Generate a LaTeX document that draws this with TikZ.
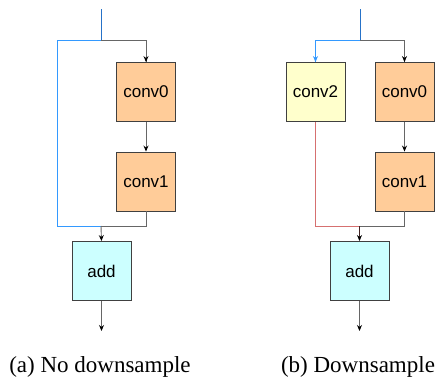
\documentclass[tikz,border=0pt]{standalone}
\usepackage{fontspec}
\setmainfont{Liberation Serif}
\newfontfamily\boxfont{Liberation Sans}
\usetikzlibrary{arrows.meta}
\definecolor{convor}{HTML}{FFCC99}
\definecolor{convye}{HTML}{FFFFCC}
\definecolor{addcy}{HTML}{CCFFFF}
\definecolor{edgegray}{HTML}{666666}
\definecolor{bordgray}{HTML}{404040}
\definecolor{skipblue}{HTML}{3399FF}
\definecolor{inblue}{HTML}{2672C8}
\definecolor{skipred}{HTML}{D67070}
\tikzset{
  blk/.style={draw=bordgray, line width=0.9pt, minimum width=59pt, minimum height=59pt, inner sep=0pt, font=\boxfont\fontsize{17}{20}\selectfont},
  orbox/.style={blk, fill=convor},
  yebox/.style={blk, fill=convye},
  cybox/.style={blk, fill=addcy},
  link/.style={draw=edgegray, line width=0.9pt},
  arr/.style={link, -{Stealth[length=6pt,width=5pt,color=black,fill=black]}},
  capt/.style={font=\fontsize{23}{26}\selectfont, inner sep=0pt}
}
\begin{document}
\begin{tikzpicture}[x=1pt,y=-1pt]
\useasboundingbox (0,0) rectangle (440,386);
% ---------- left: no downsample ----------
\node[orbox] (la0) at (146,92) {conv0};
\node[orbox] (la1) at (146,181.5) {conv1};
\node[cybox] (ladd) at (101.5,271) {add};
\coordinate (lin) at (101,9);
\coordinate (lj) at (101,40);
\coordinate (lm) at (101,226);
\coordinate (lout) at (101.5,331);
\draw[link] (lj) -| (la0.north);
\draw[arr] (lj -| la0.north) -- (la0.north);
\draw[arr] (la0.south) -- (la1.north);
\draw[link] (la1.south) |- (lm);
\draw[draw=skipblue, line width=0.9pt] (lj) -- (57,40) -- (57,226) -- (lm);
\draw[draw=inblue, line width=1pt] (lin) -- (lj);
\draw[arr] (lm) -- (ladd.north);
\draw[arr] (ladd.south) -- (lout);
\node[capt] (capa) at (100,367) {(a) No downsample};
% ---------- right: downsample ----------
\node[yebox] (rc2) at (315.5,92) {conv2};
\node[orbox] (ra0) at (404.5,92) {conv0};
\node[orbox] (ra1) at (404.5,181.5) {conv1};
\node[cybox] (radd) at (359.5,271) {add};
\coordinate (rin) at (360,9);
\coordinate (rj) at (360,40);
\coordinate (rm) at (359.5,226);
\coordinate (rout) at (359.5,331);
\draw[link] (rj) -| (ra0.north);
\draw[arr] (rj -| ra0.north) -- (ra0.north);
\draw[arr] (ra0.south) -- (ra1.north);
\draw[link] (ra1.south) |- (rm);
\draw[draw=skipblue, line width=0.9pt] (rj) -| (rc2.north);
\draw[draw=skipblue, line width=0.9pt, -{Stealth[length=6pt,width=5pt,color=skipblue,fill=skipblue]}] (rj -| rc2.north) -- (rc2.north);
\draw[draw=skipred, line width=0.9pt] (rc2.south) |- (rm);
\draw[draw=inblue, line width=1pt] (rin) -- (rj);
\draw[arr, draw=black!70!skipred] (rm) -- (radd.north);
\draw[arr] (radd.south) -- (rout);
\node[capt] (capb) at (358,367) {(b) Downsample};
\end{tikzpicture}
\end{document}
